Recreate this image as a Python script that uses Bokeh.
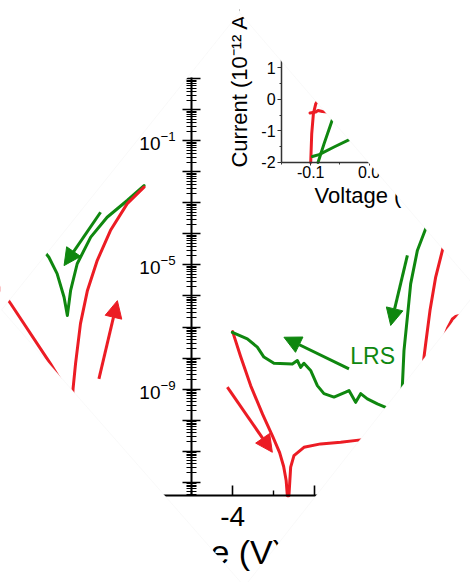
import numpy as np
from bokeh.plotting import figure
from bokeh.models import (Range1d, LogScale, LinearScale, LogAxis, LinearAxis, FixedTicker,
                          LogTickFormatter, CustomJSTickFormatter, NumeralTickFormatter,
                          Arrow, NormalHead, ColumnDataSource, PolyAnnotation)
from bokeh.core.properties import value
from bokeh.embed import file_html
from bokeh.resources import INLINE

W, H = 470, 582
RED = "#ec1c24"
GREEN = "#0f870f"
FONT = "Liberation Sans"

# ---------------- main panel: |I| (A, log) vs V ----------------
# left branch pair (SET side)
set_green_v = [-8.75, -8.48, -8.28, -8.11, -8.03, -7.95, -7.79, -7.46, -7.06, -6.57, -6.16]
set_green_logi = [-4.30, -4.75, -5.28, -6.04, -6.63, -5.82, -4.96, -4.10, -3.46, -2.92, -2.44]
set_red_v = [-6.16, -6.57, -6.98, -7.30, -7.54, -7.71, -7.83, -7.89, -7.93]
set_red_logi = [-2.49, -3.02, -3.89, -4.85, -5.82, -6.89, -8.18, -8.98, -9.80]
edge_red_v = [-9.70, -9.41, -8.44, -8.20]
edge_red_logi = [-5.70, -6.25, -8.19, -8.70]

# centre sweep: red dip and noisy green LRS trace
dip_red_v = [-4.000, -3.805, -3.561, -3.268, -3.024, -2.854, -2.756, -2.695, -2.666,
             -2.627, -2.585, -2.505, -2.261, -1.854, -1.366, -0.878, -0.390]
dip_red_logi = [-7.15, -7.95, -8.89, -9.82, -10.53, -11.05, -11.50, -11.95, -12.44,
                -12.44, -11.52, -11.15, -10.88, -10.77, -10.72, -10.64, -10.56]
lrs_green_v = [-4.007, -3.641, -3.398, -3.237, -2.993, -2.544, -2.422, -2.341, -2.261,
               -2.098, -1.934, -1.773, -1.529, -1.244, -1.163, -1.000, -0.878, -0.715,
               -0.471, -0.268, -0.024]
lrs_green_logi = [-7.17, -7.38, -7.65, -7.97, -8.17, -8.19, -8.08, -8.30, -8.17,
                  -8.40, -8.89, -9.15, -9.26, -9.10, -9.05, -9.43, -9.15, -9.32,
                  -9.48, -9.59, -9.73]

# right branch pair
right_green_v = [0.878, 0.707, 0.505, 0.341, 0.261, 0.178, 0.139, 0.110]
right_green_logi = [-3.24, -3.83, -4.53, -5.61, -6.68, -7.76, -8.89, -9.37]
right_red_v = [1.268, 1.115, 0.951, 0.812, 0.707, 0.666, 0.610]
right_red_logi = [-3.73, -4.53, -5.39, -6.47, -7.54, -7.97, -8.73]
far_red_v = [1.805, 1.439, 1.359, 1.237, 1.073]
far_red_logi = [-6.53, -6.66, -6.74, -7.05, -7.60]

# sweep-direction arrows (start -> end)
red_arrow_v0 = [-7.26, -4.129]
red_arrow_logi0 = [-8.67, -8.94]
red_arrow_v1 = [-6.81, -3.032]
red_arrow_logi1 = [-6.15, -11.04]
green_arrow_v0 = [-7.22, -1.163, 0.261]
green_arrow_logi0 = [-3.30, -8.35, -4.69]
green_arrow_v1 = [-8.11, -2.749, -0.146]
green_arrow_logi1 = [-5.02, -7.33, -6.95]

state_label = ["LRS"]
state_label_v = [-0.585]
state_label_logi = [-7.92]

# ---------------- inset: I (1e-12 A) vs V ----------------
inset_red_v = [-0.1000, -0.0983, -0.0954, -0.0914, -0.0857]
inset_red_i = [-2.00, -1.09, -0.45, -0.14, 0.02]
inset_red2_v = [-0.1012, -0.0914, -0.0875, -0.0800, -0.0669]
inset_red2_i = [-0.43, -0.40, -0.35, -0.38, -0.41]
inset_green_v = [-0.0875, -0.0772, -0.0610]
inset_green_i = [-2.00, -1.41, -0.54]
inset_green2_v = [-0.0971, -0.0857, -0.0600, -0.0285]
inset_green2_i = [-1.81, -1.75, -1.51, -1.23]

# ---------------- view / layout settings ----------------
MAIN_V_VIEW = (-9.66, 1.80)
MAIN_LOGI_VIEW = (-15.24, 3.53)
MAIN_LOGI_AXIS = (-12.44, 1.05)
INSET_V_VIEW = (-0.632, 0.174)
INSET_I_VIEW = (-15.33, 3.14)

# visible diamond window (canvas px, y downward): top, right, bottom, left
DIAMOND = [(239, 12), (477.5, 289.4), (244, 586), (1.15, 309.3)]


def pw(logs):
    return [10.0 ** v for v in logs]


p = figure(width=W, height=H, x_axis_type=None, y_axis_type=None,
           x_range=Range1d(*MAIN_V_VIEW),
           y_range=Range1d(10.0 ** MAIN_LOGI_VIEW[0], 10.0 ** MAIN_LOGI_VIEW[1]),
           toolbar_location=None, output_backend="svg", min_border=0)
p.y_scale = LogScale()
p.outline_line_color = None
p.background_fill_color = "white"
p.border_fill_color = "white"

p.extra_x_ranges = {"inset_x": Range1d(*INSET_V_VIEW)}
p.extra_y_ranges = {"inset_y": Range1d(*INSET_I_VIEW)}
p.extra_x_scales = {"inset_x": LinearScale()}
p.extra_y_scales = {"inset_y": LinearScale()}

# ---- main curves ----
lw = 3
for xs, ls, c in [(set_green_v, set_green_logi, GREEN), (set_red_v, set_red_logi, RED),
                  (edge_red_v, edge_red_logi, RED), (dip_red_v, dip_red_logi, RED),
                  (lrs_green_v, lrs_green_logi, GREEN), (right_green_v, right_green_logi, GREEN),
                  (right_red_v, right_red_logi, RED), (far_red_v, far_red_logi, RED)]:
    p.line(xs, pw(ls), line_color=c, line_width=lw, line_join="round", line_cap="round")

for v0, l0, v1, l1, c in [(red_arrow_v0, red_arrow_logi0, red_arrow_v1, red_arrow_logi1, RED),
                          (green_arrow_v0, green_arrow_logi0, green_arrow_v1, green_arrow_logi1, GREEN)]:
    src = ColumnDataSource(dict(x0=v0, y0=pw(l0), x1=v1, y1=pw(l1)))
    p.add_layout(Arrow(x_start="x0", y_start="y0", x_end="x1", y_end="y1", source=src,
                       line_color=c, line_width=3,
                       end=NormalHead(size=17, fill_color=c, line_color=c, line_width=1)))

p.text(x=state_label_v, y=pw(state_label_logi), text=state_label,
       text_font=value(FONT), text_font_size=value("23px"), text_color=GREEN,
       text_align="center", text_baseline="middle")

# ---- main axes ----
decades = [10.0 ** k for k in range(-12, 2)]
lo, hi = 10.0 ** MAIN_LOGI_AXIS[0], 10.0 ** MAIN_LOGI_AXIS[1]
minors = [m * 10.0 ** k for k in range(-13, 2) for m in range(2, 10) if lo <= m * 10.0 ** k <= hi]

y_ticks = LogAxis(ticker=FixedTicker(ticks=decades, minor_ticks=minors),
                  formatter=CustomJSTickFormatter(code="return ''"),
                  fixed_location=-5, bounds=(lo, hi),
                  axis_line_width=2, axis_line_color="black",
                  major_tick_in=9, major_tick_out=9, major_tick_line_width=1.6,
                  minor_tick_in=5, minor_tick_out=5, minor_tick_line_width=1.2)
p.add_layout(y_ticks, "left")

y_labels = LogAxis(ticker=FixedTicker(ticks=[1e-9, 1e-5, 1e-1], minor_ticks=[]),
                   formatter=LogTickFormatter(), fixed_location=-5, bounds=(lo, hi),
                   axis_line_color=None, major_tick_in=0, major_tick_out=0,
                   minor_tick_in=0, minor_tick_out=0, major_label_standoff=16,
                   major_label_text_font=FONT, major_label_text_font_size="19px",
                   major_label_text_color="black")
p.add_layout(y_labels, "left")

x_main = LinearAxis(ticker=FixedTicker(ticks=[-8, -6, -4, -2, 0], minor_ticks=[-9, -7, -5, -3, -1]),
                    formatter=CustomJSTickFormatter(code="return tick.toFixed(0)"),
                    fixed_location=lo, bounds=(-9.5, -0.1),
                    axis_line_width=2, axis_line_color="black",
                    major_tick_in=10, major_tick_out=0, major_tick_line_width=1.6,
                    minor_tick_in=5, minor_tick_out=0, minor_tick_line_width=1.4,
                    major_label_standoff=11, major_label_text_font=FONT,
                    major_label_text_font_size="28px", major_label_text_color="black",
                    axis_label="Voltage (V)", axis_label_text_font=FONT,
                    axis_label_text_font_size="34px", axis_label_text_font_style="normal",
                    axis_label_standoff=4, axis_label_text_color="black")
p.add_layout(x_main, "below")

# ---- inset curves ----
for xs, ys, c in [(inset_red_v, inset_red_i, RED), (inset_red2_v, inset_red2_i, RED),
                  (inset_green_v, inset_green_i, GREEN), (inset_green2_v, inset_green2_i, GREEN)]:
    p.line(xs, ys, x_range_name="inset_x", y_range_name="inset_y",
           line_color=c, line_width=3, line_join="round", line_cap="round")

# ---- inset axes ----
inset_y = LinearAxis(x_range_name="inset_x", y_range_name="inset_y",
                     ticker=FixedTicker(ticks=[-2, -1, 0, 1, 2], minor_ticks=[-1.5, -0.5, 0.5, 1.5, 2.5]),
                     formatter=CustomJSTickFormatter(code="return tick.toFixed(0)"),
                     fixed_location=-0.15, bounds=(-2, 2.8),
                     axis_line_width=1.5, axis_line_color="#333333",
                     major_tick_in=0, major_tick_out=4, major_tick_line_color="#333333",
                     minor_tick_in=0, minor_tick_out=2, minor_tick_line_color="#333333",
                     major_label_standoff=2, major_label_text_font=FONT,
                     major_label_text_font_size="16px", major_label_text_color="black",
                     axis_label="Current (10\u207b\u00b9\u00b2 A)", axis_label_text_font=FONT,
                     axis_label_text_font_size="22px", axis_label_text_font_style="normal",
                     axis_label_standoff=6, axis_label_text_color="black")
p.add_layout(inset_y, "left")

inset_x = LinearAxis(x_range_name="inset_x", y_range_name="inset_y",
                     ticker=FixedTicker(ticks=[-0.1, 0.0, 0.1], minor_ticks=[-0.15, -0.05, 0.05]),
                     formatter=NumeralTickFormatter(format="0.0"),
                     fixed_location=-2, bounds=(-0.15, 0.15),
                     axis_line_width=1.5, axis_line_color="#333333",
                     major_tick_in=0, major_tick_out=3, major_tick_line_color="#333333",
                     minor_tick_in=0, minor_tick_out=2, minor_tick_line_color="#333333",
                     major_label_standoff=1, major_label_text_font=FONT,
                     major_label_text_font_size="16px", major_label_text_color="black",
                     axis_label="Voltage (V)", axis_label_text_font=FONT,
                     axis_label_text_font_size="22px", axis_label_text_font_style="normal",
                     axis_label_standoff=1, axis_label_text_color="black")
p.add_layout(inset_x, "below")

# ---- diamond-shaped window: white out the four corners ----
(tx, ty), (rx, ry), (bx, by), (lx, ly) = DIAMOND
E = 30
corners = [
    [(-E, -E), (tx, -E), (tx, ty), (lx, ly), (-E, ly)],
    [(tx, -E), (W + E, -E), (W + E, ry), (rx, ry), (tx, ty)],
    [(W + E, ry), (W + E, H + E), (bx, H + E), (bx, by), (rx, ry)],
    [(-E, ly), (lx, ly), (bx, by), (bx, H + E), (-E, H + E)],
]


def to_screen(pts):
    return [x for x, _ in pts], [H - y for _, y in pts]


for poly in corners:
    xs, ys = to_screen(poly)
    p.add_layout(PolyAnnotation(xs=xs, ys=ys, xs_units="screen", ys_units="screen",
                                fill_color="white", fill_alpha=1.0, line_color=None,
                                level="overlay"))
dxs, dys = to_screen(DIAMOND + [DIAMOND[0]])
p.add_layout(PolyAnnotation(xs=dxs, ys=dys, xs_units="screen", ys_units="screen",
                            fill_color=None, line_color="#e4e4e4", line_width=0.8,
                            level="overlay"))

open("out.html", "w").write(file_html(p, INLINE))
